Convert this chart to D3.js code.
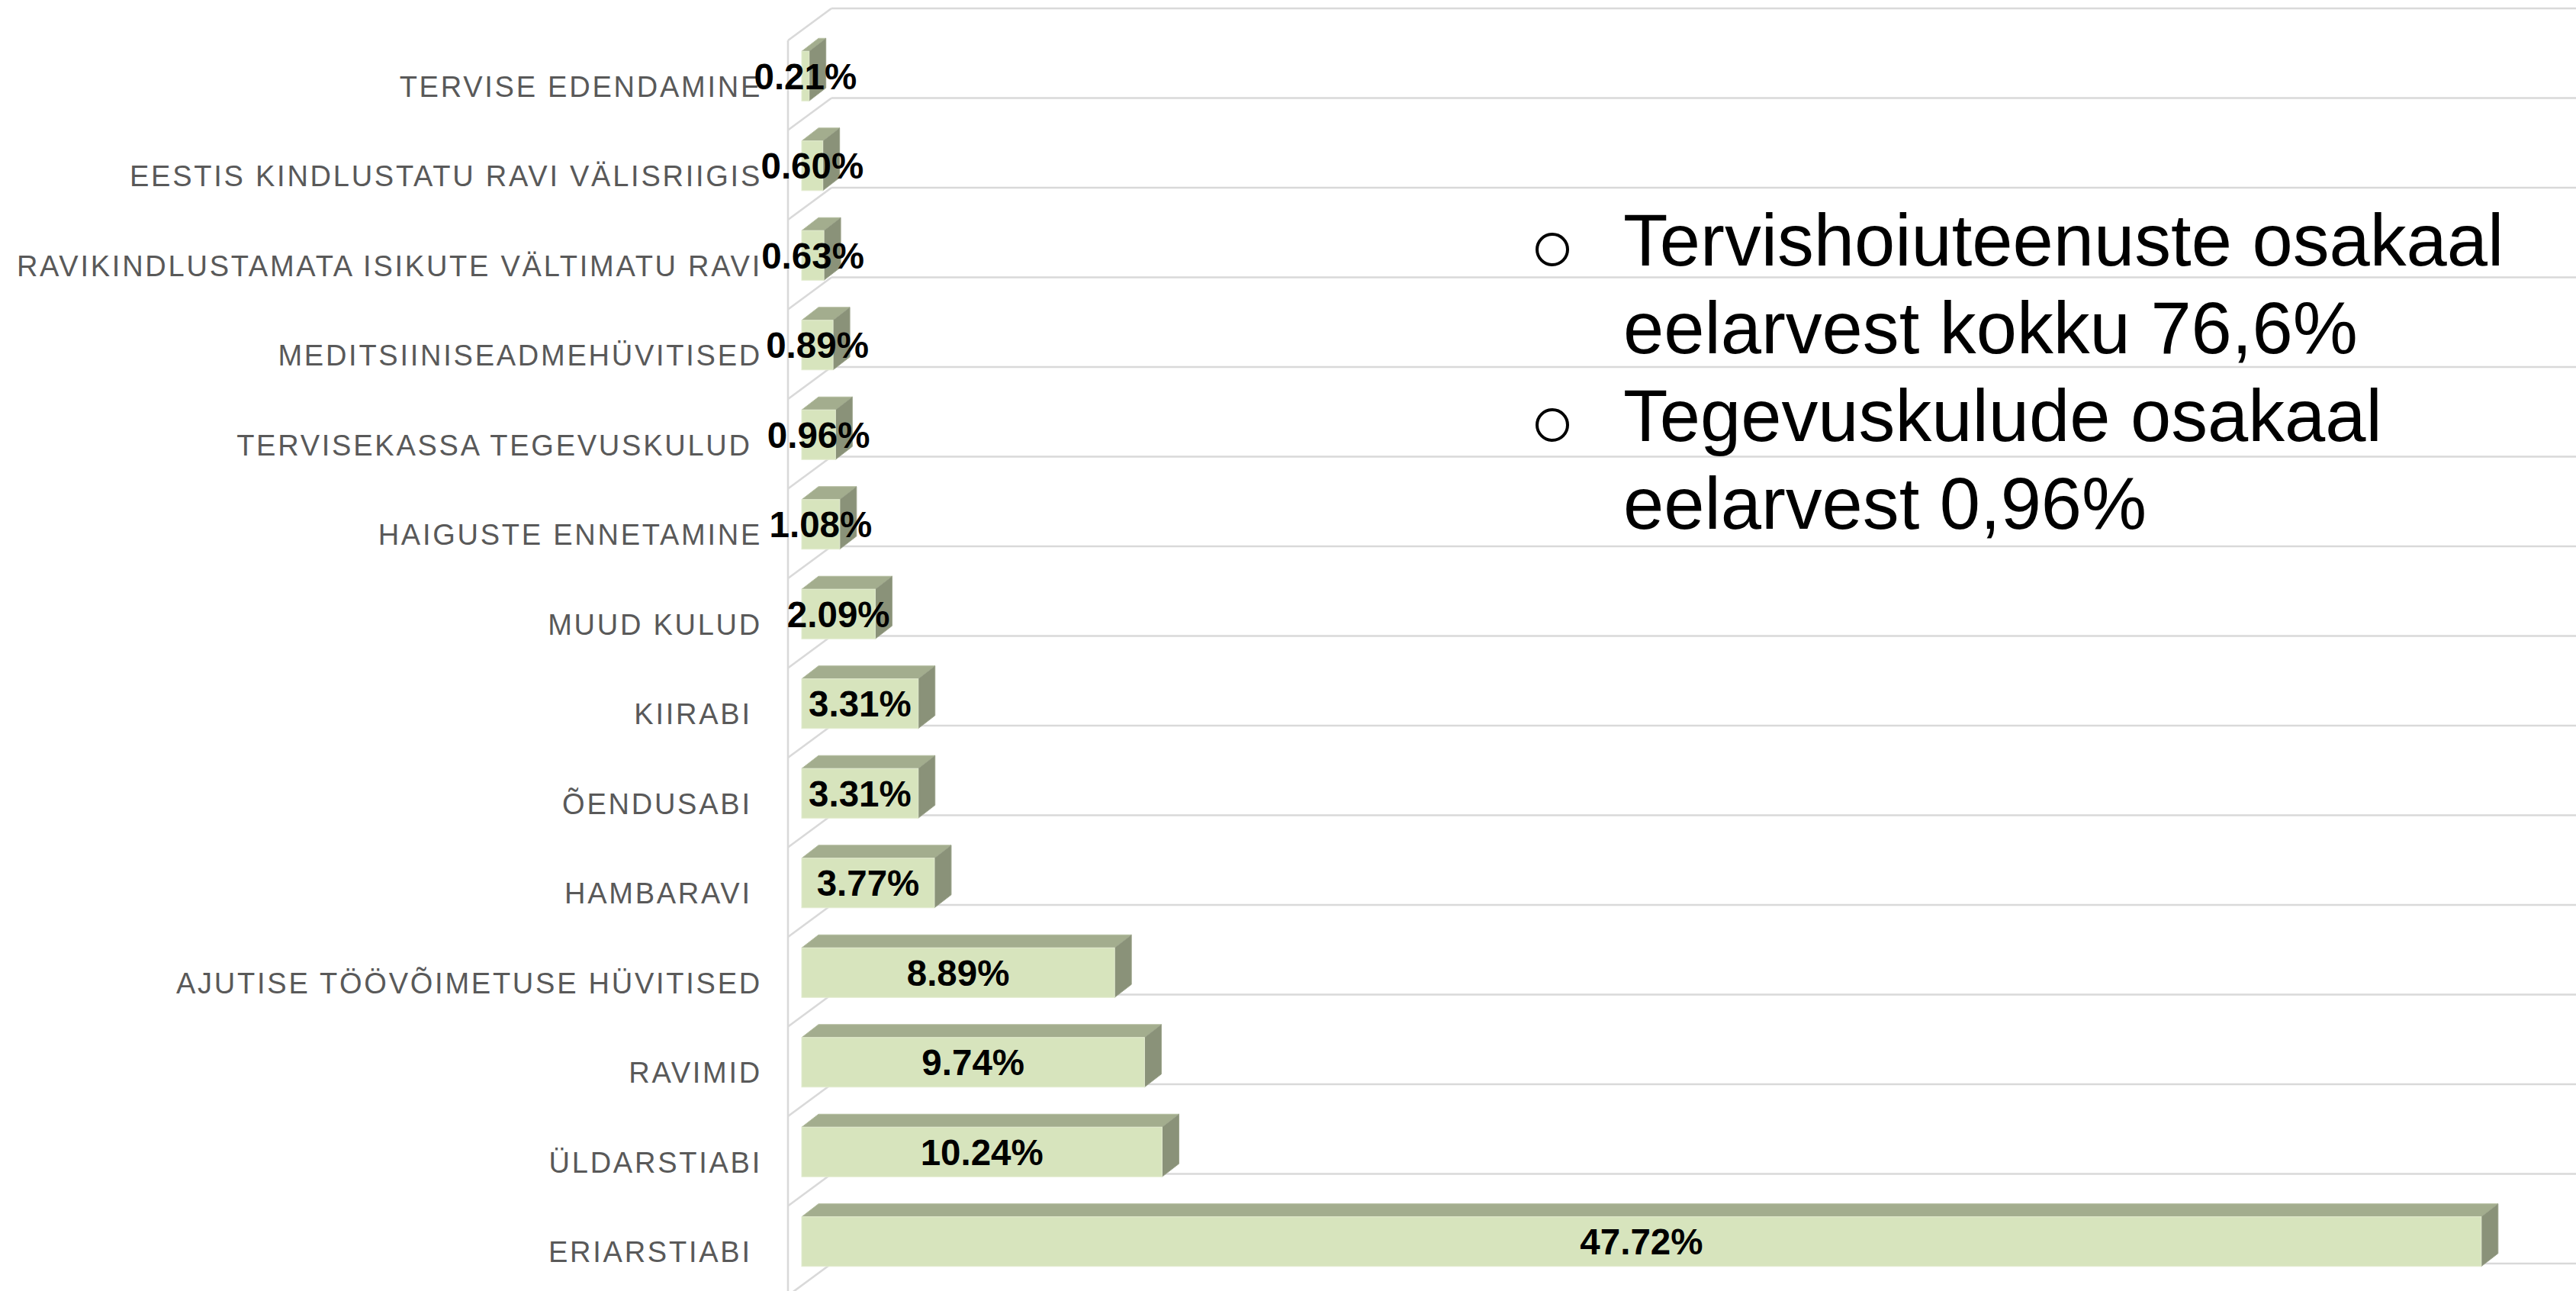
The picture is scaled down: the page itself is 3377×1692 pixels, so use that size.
<!DOCTYPE html>
<html>
<head>
<meta charset="utf-8">
<script src="https://cdn.jsdelivr.net/npm/d3@7"></script>
<style>
  html, body { margin: 0; padding: 0; background: #ffffff; }
  svg { display: block; }
</style>
</head>
<body>
<svg id="chart" width="3377" height="1692"></svg>
<script>
// ---- data ----
const categories = [
  "TERVISE EDENDAMINE",
  "EESTIS KINDLUSTATU RAVI VÄLISRIIGIS",
  "RAVIKINDLUSTAMATA ISIKUTE VÄLTIMATU RAVI",
  "MEDITSIINISEADMEHÜVITISED",
  "TERVISEKASSA TEGEVUSKULUD\u00A0",
  "HAIGUSTE ENNETAMINE",
  "MUUD KULUD",
  "KIIRABI\u00A0",
  "ÕENDUSABI\u00A0",
  "HAMBARAVI\u00A0",
  "AJUTISE TÖÖVÕIMETUSE HÜVITISED",
  "RAVIMID",
  "ÜLDARSTIABI",
  "ERIARSTIABI\u00A0"
];
const values = [0.21, 0.60, 0.63, 0.89, 0.96, 1.08, 2.09, 3.31, 3.31, 3.77, 8.89, 9.74, 10.24, 47.72];
const valueLabels = ["0.21%", "0.60%", "0.63%", "0.89%", "0.96%", "1.08%", "2.09%", "3.31%", "3.31%", "3.77%", "8.89%", "9.74%", "10.24%", "47.72%"];
const xDomain = [0, 50];
const noteLines = [
  { text: "Tervishoiuteenuste osakaal", bullet: true },
  { text: "eelarvest kokku 76,6%", bullet: false },
  { text: "Tegevuskulude osakaal", bullet: true },
  { text: "eelarvest 0,96%", bullet: false }
];

// ---- layout ----
const W = 3377, H = 1692;
const wallX = 1033;           // front-plane zero line
const topY = 53;              // front-plane top of first band
const step = 117.5;
const wallDX = 57, wallDY = -42;   // depth of the chart box
const barOffDX = 18, barOffDY = -12; // bar position within depth
const barDX = 22, barDY = -17;       // bar depth
const barH = 65;

const svg = d3.select("#chart");

const y = d3.scaleBand()
  .domain(categories)
  .range([topY, topY + step * categories.length])
  .padding(0);

const x = d3.scaleLinear()
  .domain(xDomain)
  .range([0, 2307]);

// ---- grid / walls ----
const grid = svg.append("g").attr("stroke", "#d9d9d9").attr("stroke-width", 2.6).attr("fill", "none");
const gridIdx = d3.range(categories.length + 1);
gridIdx.forEach(i => {
  const yf = topY + i * step;
  grid.append("line").attr("x1", wallX).attr("y1", yf).attr("x2", wallX + wallDX).attr("y2", yf + wallDY);
  grid.append("line").attr("x1", wallX + wallDX).attr("y1", yf + wallDY).attr("x2", W).attr("y2", yf + wallDY);
});
grid.append("line").attr("x1", wallX).attr("y1", topY).attr("x2", wallX).attr("y2", H);

// ---- category labels ----
svg.append("g")
  .selectAll("text")
  .data(categories)
  .join("text")
  .attr("x", wallX - 34)
  .attr("y", d => y(d) + y.bandwidth() / 2 + 15)
  .attr("text-anchor", "end")
  .attr("font-family", "'Liberation Sans', Arial, sans-serif")
  .attr("font-size", 38)
  .attr("letter-spacing", 2.75)
  .attr("fill", "#595959")
  .text(d => d);

// ---- bars ----
const x0 = wallX + barOffDX;
const bars = svg.append("g");
categories.forEach((c, i) => {
  const v = values[i];
  const y0 = y(c) + (step - barH) / 2 + barOffDY;
  const y1 = y0 + barH;
  const x1 = x0 + x(v);
  const g = bars.append("g");
  // top face
  g.append("path")
    .attr("d", `M${x0},${y0}L${x0 + barDX},${y0 + barDY}L${x1 + barDX},${y0 + barDY}L${x1},${y0}Z`)
    .attr("fill", "#a3ad8e").attr("stroke", "#b3bd9e").attr("stroke-width", 1);
  // side face
  g.append("path")
    .attr("d", `M${x1},${y0}L${x1 + barDX},${y0 + barDY}L${x1 + barDX},${y1 + barDY}L${x1},${y1}Z`)
    .attr("fill", "#8a9279").attr("stroke", "#9aa289").attr("stroke-width", 1);
  // front face
  g.append("rect")
    .attr("x", x0).attr("y", y0)
    .attr("width", x(v)).attr("height", barH)
    .attr("fill", "#d7e4bd").attr("stroke", "#e2ebcf").attr("stroke-width", 1);
});

// ---- value labels ----
svg.append("g")
  .selectAll("text")
  .data(categories)
  .join("text")
  .attr("x", (d, i) => x0 + x(values[i]) / 2)
  .attr("y", d => y(d) + (step - barH) / 2 + barOffDY + barH / 2 + 17)
  .attr("text-anchor", "middle")
  .attr("font-family", "'Liberation Sans', Arial, sans-serif")
  .attr("font-weight", "bold")
  .attr("font-size", 47.5)
  .attr("fill", "#000000")
  .text((d, i) => valueLabels[i]);

// ---- note text ----
const note = svg.append("g");
noteLines.forEach((l, i) => {
  const by = 348 + i * 115;
  if (l.bullet) {
    note.append("circle")
      .attr("cx", 2035).attr("cy", by - 21).attr("r", 20)
      .attr("fill", "none").attr("stroke", "#000").attr("stroke-width", 4);
  }
  note.append("text")
    .attr("x", 2128).attr("y", by)
    .attr("font-family", "'Liberation Sans', Arial, sans-serif")
    .attr("font-size", 95.7)
    .attr("fill", "#000")
    .text(l.text);
});
</script>
</body>
</html>
